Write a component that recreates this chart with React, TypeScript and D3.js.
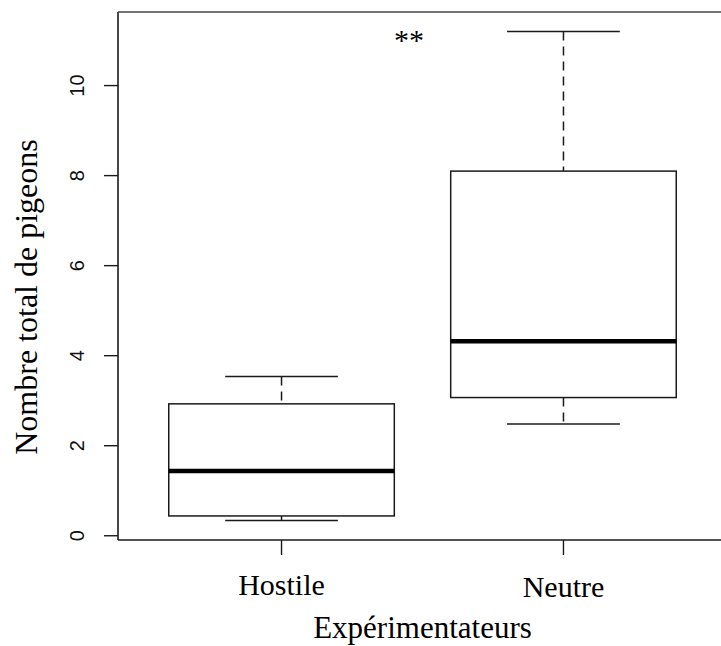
import React from "react";
import * as d3 from "d3";

const categories = ["Hostile", "Neutre"];
const lowerWhisker = [0.34, 2.48];
const q1 = [0.44, 3.07];
const medians = [1.44, 4.32];
const q3 = [2.93, 8.1];
const upperWhisker = [3.54, 11.2];
const yTicks = [0, 2, 4, 6, 8, 10];
const yLabel = "Nombre total de pigeons";
const xLabel = "Expérimentateurs";
const annotation = "**";

export default function App() {
  const W = 721, H = 646;
  const left = 118, right = 727, top = 12, bottom = 540;
  const lo = d3.min(lowerWhisker)!, hi = d3.max(upperWhisker)!;
  const ext = (hi - lo) * 0.04;
  const y = d3.scaleLinear().domain([lo - ext, hi + ext]).range([bottom, top]);
  const n = categories.length;
  const xExt = n * 0.04;
  const x = d3.scaleLinear().domain([0.5 - xExt, n + 0.5 + xExt]).range([left, right]);
  const boxW = (x(1.4) - x(0.6));
  const capW = boxW / 2;
  const stroke = "#1a1a1a";
  const serif = "'Liberation Serif', 'Times New Roman', serif";
  const sans = "'Liberation Sans', Arial, sans-serif";

  return (
    <svg width={W} height={H} style={{ position: "absolute", left: 0, top: 0, background: "#fff" }}>
      {/* frame */}
      <line x1={left} x2={left} y1={top} y2={bottom} stroke={stroke} strokeWidth={1.6} />
      <line x1={left} x2={W} y1={top} y2={top} stroke="#444" strokeWidth={1.6} />
      <line x1={left} x2={W} y1={bottom} y2={bottom} stroke={stroke} strokeWidth={1.6} />

      {/* y ticks */}
      {yTicks.map((t) => (
        <g key={t}>
          <line x1={left - 14} x2={left} y1={y(t)} y2={y(t)} stroke={stroke} strokeWidth={1.4} />
          <text
            transform={`translate(84,${y(t)}) rotate(-90)`}
            textAnchor="middle"
            fontFamily={sans}
            fontSize={20}
            fill="#111"
          >
            {t}
          </text>
        </g>
      ))}

      {/* x ticks */}
      {categories.map((c, i) => (
        <g key={c}>
          <line x1={x(i + 1)} x2={x(i + 1)} y1={bottom} y2={bottom + 15} stroke={stroke} strokeWidth={1.4} />
          <text
            x={x(i + 1)}
            y={i === 0 ? 595 : 597}
            textAnchor="middle"
            fontFamily={serif}
            fontSize={30}
            fill="#000"
          >
            {c}
          </text>
        </g>
      ))}

      {/* boxes */}
      {categories.map((c, i) => {
        const cx = x(i + 1);
        return (
          <g key={"b" + c}>
            <line x1={cx} x2={cx} y1={y(upperWhisker[i])} y2={y(q3[i])} stroke={stroke} strokeWidth={1.5} strokeDasharray="9,6" />
            <line x1={cx} x2={cx} y1={y(q1[i])} y2={y(lowerWhisker[i])} stroke={stroke} strokeWidth={1.5} strokeDasharray="9,6" />
            <line x1={cx - capW / 2} x2={cx + capW / 2} y1={y(upperWhisker[i])} y2={y(upperWhisker[i])} stroke={stroke} strokeWidth={1.5} />
            <line x1={cx - capW / 2} x2={cx + capW / 2} y1={y(lowerWhisker[i])} y2={y(lowerWhisker[i])} stroke={stroke} strokeWidth={1.5} />
            <rect x={cx - boxW / 2} y={y(q3[i])} width={boxW} height={y(q1[i]) - y(q3[i])} fill="none" stroke={stroke} strokeWidth={1.5} />
            <line x1={cx - boxW / 2} x2={cx + boxW / 2} y1={y(medians[i])} y2={y(medians[i])} stroke="#000" strokeWidth={4.5} />
          </g>
        );
      })}

      {/* annotation */}
      <text x={409} y={50} textAnchor="middle" fontFamily={serif} fontSize={30} fill="#000">
        {annotation}
      </text>

      {/* axis titles */}
      <text x={(left + right) / 2} y={638} textAnchor="middle" fontFamily={serif} fontSize={31} fill="#000">
        {xLabel}
      </text>
      <text
        transform={`translate(37,${297}) rotate(-90)`}
        textAnchor="middle"
        fontFamily={serif}
        fontSize={32}
        fill="#000"
      >
        {yLabel}
      </text>
    </svg>
  );
}
